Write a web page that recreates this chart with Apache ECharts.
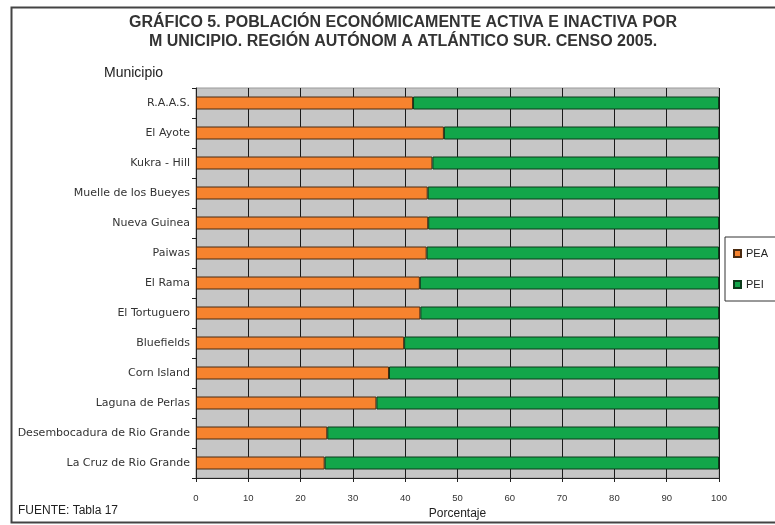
<!DOCTYPE html>
<html><head><meta charset="utf-8">
<script src="https://cdn.jsdelivr.net/npm/echarts@6/dist/echarts.min.js"></script>
<style>html,body{margin:0;padding:0;background:#fff}#c{width:775px;height:525px}</style>
</head><body><div id="c"></div>
<script>
var categories = ["R.A.A.S.","El Ayote","Kukra - Hill","Muelle de los Bueyes","Nueva Guinea","Paiwas","El Rama","El Tortuguero","Bluefields","Corn Island","Laguna de Perlas","Desembocadura de Rio Grande","La Cruz de Rio Grande"];
var pea = [41.5,47.4,45.2,44.3,44.4,44.1,42.8,42.9,39.8,36.9,34.5,25.1,24.6];
var pei = [58.5,52.6,54.8,55.7,55.6,55.9,57.2,57.1,60.2,63.1,65.5,74.9,75.4];
var xTicks = [0,10,20,30,40,50,60,70,80,90,100];

var chart = echarts.init(document.getElementById('c'));
chart.setOption({
  animation:false,
  backgroundColor:'#fff',
  textStyle:{fontFamily:'Liberation Sans, Arial, sans-serif'},
  graphic:[
    {type:'rect',shape:{x:11.5,y:7.5,width:800,height:515},style:{fill:'none',stroke:'#444',lineWidth:2},z:-1},
    {type:'text',style:{text:'GRÁFICO 5. POBLACIÓN ECONÓMICAMENTE ACTIVA E INACTIVA POR\nM UNICIPIO. REGIÓN AUTÓNOM A ATLÁNTICO SUR. CENSO 2005.',x:403,y:13,textAlign:'center',font:'bold 16px Liberation Sans, Arial, sans-serif',fill:'#333',lineHeight:19}},
    {type:'text',style:{text:'Municipio',x:104,y:66,font:'14px Liberation Sans, Arial, sans-serif',fill:'#222'}},
    {type:'text',style:{text:'FUENTE: Tabla 17',x:18,y:505,font:'12px Liberation Sans, Arial, sans-serif',fill:'#222'}}
  ],
  legend:{
    orient:'vertical',left:725,top:237,
    data:['PEA','PEI'],
    itemWidth:7,itemHeight:7,itemGap:20,
    padding:[11,40,11,8],
    borderColor:'#333',borderWidth:1,
    textStyle:{fontSize:11,color:'#222'},
    icon:'rect'
  },
  grid:{left:196,right:56,top:88,bottom:47,show:true,backgroundColor:'#C6C6C6',borderColor:'#999',borderWidth:1,containLabel:false},
  xAxis:{
    type:'value',min:0,max:100,interval:10,
    name:'Porcentaje',nameLocation:'middle',nameGap:30,
    nameTextStyle:{fontSize:12,color:'#222'},
    axisLine:{show:true,lineStyle:{color:'#222'}},
    axisTick:{show:true,length:4,lineStyle:{color:'#222'}},
    axisLabel:{fontSize:9.5,color:'#333',margin:15,formatter:function(v){return xTicks.indexOf(v)>=0?String(v):'';}},
    splitLine:{show:true,lineStyle:{color:'#1a1a1a',width:1}}
  },
  yAxis:{
    type:'category',data:categories,inverse:true,
    axisLine:{show:true,lineStyle:{color:'#222'}},
    axisTick:{show:true,length:4,lineStyle:{color:'#222'}},
    axisLabel:{fontSize:11,fontFamily:'DejaVu Sans, sans-serif',color:'#333',margin:6},
    splitLine:{show:false}
  },
  series:[
    {name:'PEA',type:'bar',stack:'t',data:pea,barWidth:13,itemStyle:{color:'#F7832E',borderColor:'#4a2a10',borderWidth:1}},
    {name:'PEI',type:'bar',stack:'t',data:pei,barWidth:13,itemStyle:{color:'#12A64A',borderColor:'#0b3a1a',borderWidth:1}}
  ]
});
</script></body></html>
